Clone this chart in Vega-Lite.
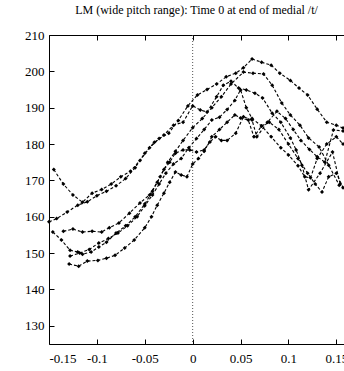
{
  "$schema": "https://vega.github.io/schema/vega-lite/v6.json",
  "autosize": {"type": "none"},
  "padding": {"left": 49, "top": 35, "right": 0, "bottom": 27},
  "width": 295,
  "height": 309,
  "background": "white",
  "title": {"text": "LM (wide pitch range):  Time 0 at end of medial /t/", "font": "Liberation Serif", "fontSize": 12, "fontWeight": "normal", "color": "black", "offset": 12},
  "config": {
    "view": {"stroke": "black", "strokeWidth": 1},
    "axis": {"domain": false, "grid": false, "labelFont": "Liberation Serif", "labelFontSize": 13, "labelColor": "black", "tickColor": "black", "tickSize": -5, "title": null, "labelOverlap": false}
  },
  "datasets": {
    "curves": [
      {"s":"s1","t":-0.145,"f":173},{"s":"s1","t":-0.135,"f":169},{"s":"s1","t":-0.125,"f":166},{"s":"s1","t":-0.115,"f":164},{"s":"s1","t":-0.105,"f":166.5},{"s":"s1","t":-0.095,"f":167.5},{"s":"s1","t":-0.085,"f":169},{"s":"s1","t":-0.075,"f":171},{"s":"s1","t":-0.065,"f":172.5},{"s":"s1","t":-0.055,"f":175.5},{"s":"s1","t":-0.045,"f":179},{"s":"s1","t":-0.035,"f":181.5},{"s":"s1","t":-0.025,"f":183},{"s":"s1","t":-0.015,"f":186.5},{"s":"s1","t":-0.005,"f":190.5},{"s":"s1","t":0.005,"f":193.5},{"s":"s1","t":0.015,"f":195},{"s":"s1","t":0.025,"f":196.5},{"s":"s1","t":0.035,"f":198.5},{"s":"s1","t":0.045,"f":199.5},{"s":"s1","t":0.053,"f":201},{"s":"s1","t":0.062,"f":203.4},{"s":"s1","t":0.072,"f":202.5},{"s":"s1","t":0.082,"f":201.7},{"s":"s1","t":0.091,"f":199.5},{"s":"s1","t":0.102,"f":197.5},{"s":"s1","t":0.111,"f":195.4},{"s":"s1","t":0.12,"f":193.5},{"s":"s1","t":0.13,"f":189.6},{"s":"s1","t":0.14,"f":186},{"s":"s1","t":0.15,"f":185.2},{"s":"s1","t":0.157,"f":184.4},
      {"s":"s2","t":-0.15,"f":158.6},{"s":"s2","t":-0.142,"f":159.5},{"s":"s2","t":-0.131,"f":161.3},{"s":"s2","t":-0.12,"f":163.2},{"s":"s2","t":-0.11,"f":164.1},{"s":"s2","t":-0.1,"f":165.8},{"s":"s2","t":-0.09,"f":167},{"s":"s2","t":-0.08,"f":168.5},{"s":"s2","t":-0.07,"f":170.5},{"s":"s2","t":-0.06,"f":173.5},{"s":"s2","t":-0.05,"f":177.5},{"s":"s2","t":-0.04,"f":180.5},{"s":"s2","t":-0.03,"f":182.5},{"s":"s2","t":-0.02,"f":185.2},{"s":"s2","t":-0.01,"f":186},{"s":"s2","t":0.0,"f":190.5},{"s":"s2","t":0.008,"f":189.4},{"s":"s2","t":0.015,"f":188.8},{"s":"s2","t":0.025,"f":193},{"s":"s2","t":0.032,"f":196.2},{"s":"s2","t":0.04,"f":197.3},{"s":"s2","t":0.048,"f":195.4},{"s":"s2","t":0.056,"f":194.9},{"s":"s2","t":0.065,"f":194},{"s":"s2","t":0.073,"f":192.7},{"s":"s2","t":0.083,"f":188.5},{"s":"s2","t":0.092,"f":186},{"s":"s2","t":0.102,"f":181.7},{"s":"s2","t":0.108,"f":178.4},{"s":"s2","t":0.114,"f":174.2},{"s":"s2","t":0.121,"f":167.4},{"s":"s2","t":0.133,"f":172},{"s":"s2","t":0.146,"f":177.8},{"s":"s2","t":0.154,"f":169},
      {"s":"s3","t":-0.146,"f":155.8},{"s":"s3","t":-0.137,"f":153.6},{"s":"s3","t":-0.128,"f":150.8},{"s":"s3","t":-0.12,"f":150.3},{"s":"s3","t":-0.115,"f":149.7},{"s":"s3","t":-0.106,"f":150.3},{"s":"s3","t":-0.098,"f":151.7},{"s":"s3","t":-0.09,"f":153},{"s":"s3","t":-0.08,"f":155.5},{"s":"s3","t":-0.07,"f":157.5},{"s":"s3","t":-0.06,"f":160},{"s":"s3","t":-0.05,"f":163.5},{"s":"s3","t":-0.042,"f":167},{"s":"s3","t":-0.034,"f":171},{"s":"s3","t":-0.026,"f":175},{"s":"s3","t":-0.018,"f":178},{"s":"s3","t":-0.01,"f":181},{"s":"s3","t":0.0,"f":184.5},{"s":"s3","t":0.01,"f":187},{"s":"s3","t":0.02,"f":190},{"s":"s3","t":0.03,"f":193},{"s":"s3","t":0.04,"f":196.5},{"s":"s3","t":0.053,"f":199.8},{"s":"s3","t":0.063,"f":199.5},{"s":"s3","t":0.074,"f":199.3},{"s":"s3","t":0.083,"f":196.2},{"s":"s3","t":0.093,"f":191.3},{"s":"s3","t":0.102,"f":188},{"s":"s3","t":0.112,"f":185.2},{"s":"s3","t":0.121,"f":181.7},{"s":"s3","t":0.132,"f":179.2},{"s":"s3","t":0.142,"f":174.2},{"s":"s3","t":0.153,"f":168.7},
      {"s":"s4","t":-0.135,"f":156},{"s":"s4","t":-0.125,"f":156.6},{"s":"s4","t":-0.115,"f":155.8},{"s":"s4","t":-0.105,"f":156},{"s":"s4","t":-0.095,"f":155.8},{"s":"s4","t":-0.087,"f":157},{"s":"s4","t":-0.077,"f":158.3},{"s":"s4","t":-0.066,"f":161},{"s":"s4","t":-0.055,"f":163.8},{"s":"s4","t":-0.045,"f":166},{"s":"s4","t":-0.037,"f":169.5},{"s":"s4","t":-0.03,"f":173},{"s":"s4","t":-0.024,"f":175},{"s":"s4","t":-0.018,"f":177.5},{"s":"s4","t":-0.01,"f":178.4},{"s":"s4","t":-0.003,"f":178.4},{"s":"s4","t":0.004,"f":177.8},{"s":"s4","t":0.012,"f":178.4},{"s":"s4","t":0.018,"f":180.6},{"s":"s4","t":0.024,"f":182},{"s":"s4","t":0.03,"f":181},{"s":"s4","t":0.036,"f":181},{"s":"s4","t":0.045,"f":183},{"s":"s4","t":0.053,"f":187.5},{"s":"s4","t":0.062,"f":186.6},{"s":"s4","t":0.067,"f":182},{"s":"s4","t":0.078,"f":186},{"s":"s4","t":0.088,"f":189},{"s":"s4","t":0.097,"f":187},{"s":"s4","t":0.105,"f":184},{"s":"s4","t":0.113,"f":181},{"s":"s4","t":0.122,"f":178.5},{"s":"s4","t":0.13,"f":176.5},{"s":"s4","t":0.138,"f":175},{"s":"s4","t":0.147,"f":183.9},{"s":"s4","t":0.157,"f":183.6},
      {"s":"s5","t":-0.128,"f":149.2},{"s":"s5","t":-0.118,"f":150},{"s":"s5","t":-0.108,"f":151},{"s":"s5","t":-0.098,"f":152.8},{"s":"s5","t":-0.088,"f":154},{"s":"s5","t":-0.078,"f":155.5},{"s":"s5","t":-0.068,"f":157.5},{"s":"s5","t":-0.058,"f":160},{"s":"s5","t":-0.05,"f":163},{"s":"s5","t":-0.042,"f":166},{"s":"s5","t":-0.035,"f":169},{"s":"s5","t":-0.028,"f":172},{"s":"s5","t":-0.02,"f":174.5},{"s":"s5","t":-0.012,"f":176},{"s":"s5","t":-0.004,"f":179},{"s":"s5","t":0.004,"f":181.5},{"s":"s5","t":0.012,"f":184},{"s":"s5","t":0.02,"f":186.6},{"s":"s5","t":0.028,"f":187.4},{"s":"s5","t":0.036,"f":189.5},{"s":"s5","t":0.044,"f":192},{"s":"s5","t":0.05,"f":194.9},{"s":"s5","t":0.056,"f":190},{"s":"s5","t":0.062,"f":187},{"s":"s5","t":0.072,"f":185},{"s":"s5","t":0.082,"f":182},{"s":"s5","t":0.092,"f":179},{"s":"s5","t":0.1,"f":177},{"s":"s5","t":0.11,"f":174},{"s":"s5","t":0.117,"f":171},{"s":"s5","t":0.123,"f":170.7},{"s":"s5","t":0.13,"f":176},{"s":"s5","t":0.14,"f":180},{"s":"s5","t":0.15,"f":182},{"s":"s5","t":0.157,"f":180},
      {"s":"s6","t":-0.129,"f":147},{"s":"s6","t":-0.119,"f":146.4},{"s":"s6","t":-0.11,"f":147.8},{"s":"s6","t":-0.099,"f":148},{"s":"s6","t":-0.09,"f":148.6},{"s":"s6","t":-0.081,"f":149.4},{"s":"s6","t":-0.071,"f":151.4},{"s":"s6","t":-0.061,"f":153.6},{"s":"s6","t":-0.05,"f":157},{"s":"s6","t":-0.043,"f":160},{"s":"s6","t":-0.037,"f":163.2},{"s":"s6","t":-0.03,"f":166.5},{"s":"s6","t":-0.024,"f":169.5},{"s":"s6","t":-0.018,"f":172.3},{"s":"s6","t":-0.012,"f":171.5},{"s":"s6","t":-0.006,"f":171},{"s":"s6","t":0.0,"f":174.5},{"s":"s6","t":0.006,"f":176},{"s":"s6","t":0.012,"f":178},{"s":"s6","t":0.02,"f":182},{"s":"s6","t":0.028,"f":184},{"s":"s6","t":0.036,"f":186},{"s":"s6","t":0.044,"f":188},{"s":"s6","t":0.05,"f":187.2},{"s":"s6","t":0.058,"f":186.6},{"s":"s6","t":0.064,"f":182},{"s":"s6","t":0.072,"f":185},{"s":"s6","t":0.08,"f":186},{"s":"s6","t":0.09,"f":184},{"s":"s6","t":0.1,"f":180},{"s":"s6","t":0.11,"f":176},{"s":"s6","t":0.12,"f":172},{"s":"s6","t":0.128,"f":169},{"s":"s6","t":0.135,"f":166.8},{"s":"s6","t":0.142,"f":171},{"s":"s6","t":0.15,"f":172},{"s":"s6","t":0.157,"f":168}
    ],
    "zero": [{"t": 0}]
  },
  "resolve": {"axis": {"x": "independent"}},
  "layer": [
    {
      "data": {"name": "zero"},
      "mark": {"type": "rule", "color": "#555", "strokeDash": [1, 2], "strokeWidth": 1},
      "encoding": {
        "x": {"field": "t", "type": "quantitative", "scale": {"domain": [-0.15, 0.158], "nice": false, "zero": false},
          "axis": {"orient": "top", "values": [-0.15, -0.1, -0.05, 0, 0.05, 0.1, 0.15], "labels": false}}
      }
    },
    {
      "data": {"name": "curves"},
      "mark": {"type": "line", "color": "black", "strokeWidth": 1.1, "strokeDash": [3, 2]},
      "encoding": {
        "x": {"field": "t", "type": "quantitative", "scale": {"domain": [-0.15, 0.158], "nice": false, "zero": false},
          "axis": {"orient": "bottom", "values": [-0.15, -0.1, -0.05, 0, 0.05, 0.1, 0.15], "labelExpr": "'' + datum.value", "labelPadding": 13}},
        "y": {"field": "f", "type": "quantitative", "scale": {"domain": [125, 210], "nice": false, "zero": false},
          "axis": {"values": [130, 140, 150, 160, 170, 180, 190, 200, 210], "labelPadding": 10, "labelOverlap": false}},
        "detail": {"field": "s"}
      }
    },
    {
      "data": {"name": "curves"},
      "mark": {"type": "point", "shape": "diamond", "filled": true, "color": "black", "size": 16, "opacity": 1},
      "encoding": {
        "x": {"field": "t", "type": "quantitative", "axis": null},
        "y": {"field": "f", "type": "quantitative",
          "axis": {"values": [130, 140, 150, 160, 170, 180, 190, 200, 210], "labelPadding": 10, "labelOverlap": false}}
      }
    }
  ]
}
